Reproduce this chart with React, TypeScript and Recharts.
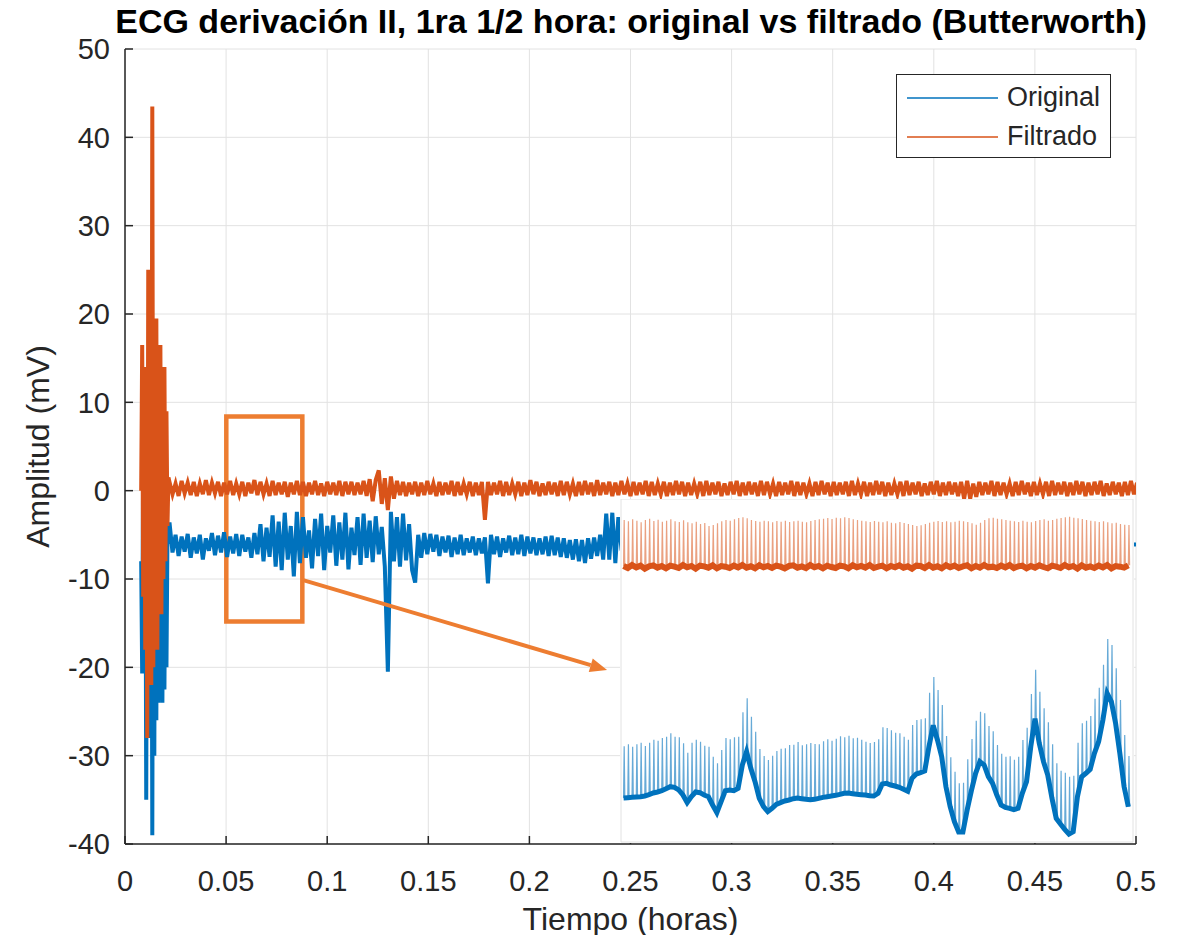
import {
  LineChart, Line, XAxis, YAxis, CartesianGrid, Legend, Label,
  ReferenceArea, ReferenceLine,
} from 'recharts'

const FONT = '"Liberation Sans", Arial, Helvetica, sans-serif'
const INK = '#262626'
const BLUE = '#0072BD'
const ORANGE = '#D95319'
const NOTE = '#ED7D31'
const GRID = '#e2e2e2'

// main axes (hours / mV)
const xTicks = [0, 0.05, 0.1, 0.15, 0.2, 0.25, 0.3, 0.35, 0.4, 0.45, 0.5]
const yTicks = [-40, -30, -20, -10, 0, 10, 20, 30, 40, 50]
const seriesOrder = ['Original', 'Filtrado']

// electrode settling burst, one sample every 0.0005 h from 0.008 h
const burstStart = 0.008
const burstStep = 0.0005
const origBurst = [-8, -20.7, 5, -15, 8, -35, 10, -25, 12, -28, 15, -39, 10, -30, 8, -26, 6, -24, 4, -23, 2, -24, 0, -22.5, -3, -20, -5, -6]
const filtBurst = [0, 16.5, -12, 14, -18, 12, -28, 25, -16, 20, -22, 43.5, -20, 18, -15, 19.5, -18, 14, -12, 16.5, -14, 12, -10, 14, -8, 9, -4, 1.5]

// rest of the record, one sample every 0.0015 h from 0.022 h
const bandStart = 0.022
const bandStep = 0.0015
const origBand = [
  -3.6, -7.0, -5.0, -7.4, -5.2, -6.9, -4.9, -7.6, -5.3, -7.1, -5.0, -7.8, -5.4, -6.8, -4.8, -7.3, -5.1, -7.0, -4.7, -7.5,
  -5.2, -7.1, -4.9, -7.4, -5.0, -6.9, -5.3, -7.6, -4.8, -7.2, -3.8, -8.0, -4.2, -7.5, -2.8, -8.6, -3.5, -9.0, -2.5, -7.8,
  -4.0, -9.7, -2.4, -8.2, -3.0, -7.6, -4.5, -8.8, -3.2, -7.4, -2.6, -9.0, -4.0, -7.0, -2.8, -8.5, -3.6, -7.8, -2.5, -8.9,
  -4.2, -7.3, -3.0, -8.4, -2.6, -7.6, -3.4, -8.1, -2.9, -7.2, -4.1, -8.6, -20.5, -2.4, -8.0, -3.0, -8.6, -2.6, -7.9, -3.8,
  -9.0, -10.4, -5.0, -7.6, -4.8, -7.2, -4.9, -6.9, -5.0, -7.4, -5.2, -7.0, -5.1, -7.5, -5.3, -7.2, -5.0, -7.3, -5.4, -7.0,
  -5.2, -7.3, -5.4, -7.1, -5.3, -10.5, -5.0, -7.2, -5.2, -7.5, -5.4, -7.0, -5.1, -7.3, -5.3, -7.2, -5.0, -7.4, -5.2, -7.1,
  -5.3, -7.3, -5.4, -7.2, -5.2, -7.4, -5.1, -7.3, -5.3, -7.5, -5.4, -7.6, -5.6, -7.8, -5.5, -8.0, -5.6, -8.2, -5.4, -7.7,
  -5.3, -7.4, -5.0, -7.8, -2.6, -7.8, -2.5, -8.2, -3.0, -6.5,
]
const filtBand = [
  1.0, -0.4, 0.8, -0.6, 1.1, -0.3, 0.9, -0.5, 1.0, -0.6, 0.8, -0.4, 1.2, -0.5, 0.9, -0.3, 1.0, -0.6, 0.9, -0.4,
  1.1, -0.5, 0.8, -0.4, 1.0, -0.6, 0.9, -0.3, 1.2, -0.5, 1.0, -0.4, 0.8, -0.6, 1.1, -0.5, 0.9, -0.4, 1.0, -0.7,
  0.9, -0.4, 1.1, -0.5, 1.0, -0.6, 0.9, -0.4, 1.1, -0.5, 0.8, -0.6, 1.0, -0.4, 0.9, -0.5, 1.1, -0.6, 1.0, -0.4,
  1.0, -0.5, 0.9, -0.4, 1.1, -0.6, 1.3, -1.2, 1.2, 2.3, -1.5, 1.4, -2.2, 1.6, -0.9, 1.1, -0.5, 1.0, -0.6, 0.9,
  -0.4, 1.0, -0.6, 0.9, -0.5, 1.1, -0.4, 0.8, -0.6, 1.0, -0.5, 0.9, -0.4, 1.1, -0.6, 1.0, -0.5, 0.8, -0.4, 1.0,
  -0.6, 0.9, -0.5, 1.0, -3.3, 1.0, -0.5, 0.9, -0.4, 1.1, -0.6, 1.0, -0.5, 0.8, -0.4, 1.0, -0.6, 0.9, -0.5, 1.2,
  -0.4, 1.0, -0.6, 0.8, -0.5, 1.0, -0.4, 0.9, -0.6, 1.1, -0.5, 1.0, -0.4, 0.8, -0.6, 1.0, -0.5, 1.1, -0.4, 0.9,
  -0.6, 1.2, -0.5, 0.9, -0.4, 1.0, -0.6, 0.9, -0.5, 1.1, -0.4, 0.8, -0.6, 1.0, -0.5, 0.9, -0.4, 1.1, -0.6, 1.0,
  -0.5, 0.8, -0.4, 1.0, -0.6, 0.9, -0.5, 1.1, -0.4, 1.0, -0.6, 0.9, -0.5, 0.8, -0.4, 1.0, -0.6, 1.1, -0.5, 0.9,
  -0.4, 1.0, -0.6, 0.8, -0.5, 1.0, -0.4, 1.1, -0.6, 0.9, -0.5, 1.0, -0.4, 0.9, -0.6, 1.1, -0.5, 1.0, -0.4, 0.8,
  -0.6, 1.0, -0.5, 0.9, -0.4, 1.1, -0.6, 1.0, -0.5, 0.9, -0.4, 0.8, -0.6, 1.0, -0.5, 1.1, -0.4, 0.9, -0.6, 1.0,
  -0.5, 0.9, -0.4, 1.0, -0.6, 1.1, -0.5, 0.8, -0.4, 1.0, -0.6, 0.9, -0.5, 1.1, -0.4, 1.0, -0.6, 0.9, -0.5, 0.8,
  -0.4, 1.0, -0.6, 1.1, -0.5, 0.9, -0.4, 1.0, -0.6, 0.8, -0.5, 1.0, -0.4, 1.1, -0.6, 0.9, -0.5, 1.0, -0.4, 0.9,
  -0.6, 1.0, -0.9, 1.1, -0.9, 0.8, -0.7, 1.0, -0.5, 0.9, -0.4, 1.1, -0.6, 1.0, -0.5, 0.9, -0.4, 0.8, -0.6, 1.0,
  -0.5, 1.1, -0.4, 0.9, -0.6, 1.0, -0.5, 0.8, -0.4, 1.0, -0.6, 1.1, -0.5, 0.9, -0.4, 1.0, -0.6, 0.9, -0.5, 1.1,
  -0.4, 1.0, -0.6, 0.9, -0.5, 1.0, -0.4, 1.1, -0.6, 0.8, -0.5, 1.0, -0.4, 0.9, -0.6, 1.0, -0.5, 1.1, -0.4, 0.9,
]

// original trace under the zoom panel, every 0.025 h from 0.25 h
const tailStart = 0.25
const tailStep = 0.025
const origTail = [-6.2, -5.6, -6.4, -5.9, -6.3, -5.8, -6.1, -6.5, -5.7, -6.0, -6.1]

// annotation: zoom window and arrow (hours / mV)
const boxX = [0.0501, 0.0877]
const boxY = [-14.8, 8.4]
const arrowFrom = { x: 0.0877, y: -10.1 }
const arrowTo = { x: 0.2384, y: -20.3 }

// zoom panel: one value per heartbeat
const zoomTicksX = [0, 20, 40, 60, 80, 100]
const zoomTicksY = [-8, -6, -4, -2, 0]
const beatStart = -1.5
const beatStep = 1
const origBase = [
  -6.94, -6.93, -6.92, -6.91, -6.90, -6.88, -6.84, -6.79, -6.76, -6.72,
  -6.66, -6.60, -6.62, -6.70, -6.85, -7.08, -6.90, -6.76, -6.78, -6.85,
  -6.90, -7.15, -7.38, -7.05, -6.72, -6.70, -6.72, -6.65, -5.95, -5.55,
  -6.05, -6.45, -6.95, -7.20, -7.35, -7.25, -7.13, -7.08, -7.03, -7.00,
  -6.96, -6.94, -6.96, -6.98, -6.99, -6.98, -6.95, -6.92, -6.90, -6.88,
  -6.86, -6.83, -6.80, -6.79, -6.81, -6.83, -6.84, -6.85, -6.87, -6.88,
  -6.80, -6.52, -6.50, -6.55, -6.58, -6.62, -6.68, -6.74, -6.35, -6.22,
  -6.18, -6.13, -5.40, -4.76, -5.20, -5.70, -6.60, -7.20, -7.65, -7.96,
  -7.96, -7.30, -6.72, -6.20, -5.85, -5.95, -6.30, -6.50, -6.85, -7.15,
  -7.22, -7.25, -7.29, -7.25, -6.80, -6.45, -5.40, -4.56, -5.30, -5.85,
  -6.25, -6.95, -7.55, -7.72, -7.88, -8.02, -7.95, -6.90, -6.30, -6.20,
  -6.08, -5.60, -5.25, -4.60, -3.80, -4.05, -4.70, -5.60, -6.60, -7.20,
]
const origPeak = [
  -5.39, -5.33, -5.40, -5.33, -5.28, -5.38, -5.28, -5.19, -5.22, -5.14,
  -5.10, -5.00, -5.10, -5.12, -5.30, -5.58, -5.28, -5.19, -5.25, -5.37,
  -5.40, -5.70, -5.90, -5.50, -5.14, -5.18, -5.12, -5.10, -4.37, -3.95,
  -4.50, -4.95, -5.47, -5.68, -5.80, -5.67, -5.53, -5.46, -5.45, -5.35,
  -5.34, -5.26, -5.36, -5.33, -5.29, -5.32, -5.33, -5.24, -5.18, -5.22,
  -5.16, -5.09, -5.12, -5.07, -5.15, -5.13, -5.19, -5.25, -5.29, -5.26,
  -5.18, -4.82, -4.84, -4.91, -4.98, -5.00, -5.10, -5.19, -4.75, -4.60,
  -4.58, -4.55, -3.78, -3.31, -3.70, -4.15, -5.08, -5.72, -6.15, -6.50,
  -6.48, -5.78, -5.17, -4.62, -4.35, -4.40, -4.78, -4.94, -5.35, -5.61,
  -5.70, -5.69, -5.79, -5.70, -5.20, -4.83, -3.82, -3.09, -3.75, -4.25,
  -4.67, -5.33, -5.90, -6.12, -6.18, -6.30, -6.27, -5.28, -4.70, -4.62,
  -4.48, -3.96, -3.63, -2.94, -2.17, -2.35, -3.05, -4.00, -5.05, -5.68,
]
const filtBase = [
  0.02, -0.04, 0.05, -0.02, 0.03, -0.06, 0.01, 0.04, -0.03, 0.02,
  -0.05, 0.03, 0.00, -0.04, 0.05, -0.02, 0.02, -0.06, 0.03, 0.01,
  -0.03, 0.04, -0.05, 0.02, 0.00, -0.04, 0.03, -0.02, 0.05, -0.03,
  0.01, -0.05, 0.04, -0.02, 0.02, -0.04, 0.03, 0.00, -0.05, 0.02,
  0.04, -0.03, 0.01, -0.04, 0.05, -0.02, 0.02, -0.05, 0.03, -0.01,
  -0.04, 0.03, 0.01, -0.05, 0.04, -0.02, 0.02, -0.03, 0.05, -0.04,
  0.00, 0.03, -0.05, 0.02, -0.02, 0.04, -0.03, 0.01, -0.06, 0.03,
  0.02, -0.04, 0.05, -0.03, 0.01, -0.05, 0.04, -0.02, 0.03, -0.04,
  0.01, 0.04, -0.05, 0.02, -0.03, 0.05, -0.02, 0.00, -0.04, 0.03,
  -0.02, 0.05, -0.04, 0.01, 0.03, -0.05, 0.02, -0.03, 0.04, -0.01,
  -0.05, 0.03, 0.00, -0.04, 0.05, -0.02, 0.02, -0.06, 0.04, -0.03,
  0.01, -0.04, 0.03, -0.02, 0.05, -0.05, 0.02, 0.00, -0.03, 0.04,
]
const filtPeak = [
  1.40, 1.36, 1.42, 1.38, 1.33, 1.40, 1.44, 1.37, 1.41, 1.35,
  1.38, 1.42, 1.36, 1.34, 1.39, 1.33, 1.30, 1.35, 1.28, 1.31,
  1.22, 1.25, 1.30, 1.36, 1.40, 1.38, 1.42, 1.46, 1.48, 1.45,
  1.40, 1.37, 1.35, 1.38, 1.36, 1.33, 1.37, 1.35, 1.38, 1.34,
  1.36, 1.38, 1.35, 1.33, 1.37, 1.40, 1.42, 1.44, 1.46, 1.43,
  1.47, 1.45, 1.48, 1.46, 1.42, 1.40, 1.38, 1.36, 1.34, 1.37,
  1.35, 1.33, 1.36, 1.32, 1.30, 1.34, 1.31, 1.28, 1.25, 1.22,
  1.24, 1.28, 1.32, 1.35, 1.37, 1.34, 1.36, 1.33, 1.35, 1.38,
  1.36, 1.34, 1.30, 1.26, 1.32, 1.40, 1.45, 1.47, 1.44, 1.42,
  1.40, 1.38, 1.36, 1.34, 1.38, 1.35, 1.33, 1.37, 1.40, 1.42,
  1.38, 1.40, 1.44, 1.46, 1.48, 1.50, 1.47, 1.45, 1.43, 1.40,
  1.38, 1.36, 1.34, 1.36, 1.33, 1.30, 1.32, 1.28, 1.26, 1.25,
]

const sampled = (t0: number, dt: number, vals: number[]) =>
  vals.map((v, i) => ({ t: +(t0 + i * dt).toFixed(5), v }))

const origData = [
  ...sampled(burstStart, burstStep, origBurst),
  ...sampled(bandStart, bandStep, origBand),
  ...sampled(tailStart, tailStep, origTail),
]
const filtData = [
  ...sampled(burstStart, burstStep, filtBurst),
  ...sampled(bandStart, bandStep, filtBand),
]

// each beat: baseline -> R peak -> baseline
const spikes = (base: number[], peak: number[]) =>
  base.flatMap((b, i) => {
    const t = beatStart + i * beatStep
    return [{ t, v: b }, { t: t + 0.15, v: peak[i] }, { t: t + 0.3, v: b }]
  })
const origSpikes = spikes(origBase, origPeak)
const filtSpikes = spikes(filtBase, filtPeak)
const origBaseline = sampled(beatStart, beatStep, origBase)
const filtBaseline = sampled(beatStart, beatStep, filtBase)

const tickStyle = { fill: INK, fontSize: 29, fontFamily: FONT }

const Arrow = (p: any) => {
  const { x1, y1, x2, y2 } = p
  const a = Math.atan2(y2 - y1, x2 - x1)
  const len = 17
  const half = 7
  const bx = x2 - len * Math.cos(a)
  const by = y2 - len * Math.sin(a)
  const px = -Math.sin(a) * half
  const py = Math.cos(a) * half
  return (
    <g>
      <line x1={x1} y1={y1} x2={bx} y2={by} stroke={NOTE} strokeWidth={4} />
      <polygon points={`${x2},${y2} ${bx + px},${by + py} ${bx - px},${by - py}`} fill={NOTE} />
    </g>
  )
}

const LegendBox = ({ payload }: any) => {
  const items = [...(payload || [])].sort(
    (a: any, b: any) => seriesOrder.indexOf(a.value) - seriesOrder.indexOf(b.value))
  return (
    <div style={{
      width: 215, height: 84, boxSizing: 'border-box', border: `1.5px solid ${INK}`,
      background: '#fff', paddingTop: 3, fontFamily: FONT, fontSize: 27, color: INK,
    }}>
      {items.map((p: any) => (
        <div key={p.value} style={{ display: 'flex', alignItems: 'center', height: 39 }}>
          <svg width={110} height={10} style={{ flex: 'none' }}>
            <line x1={10} y1={5} x2={101} y2={5} stroke={p.color} strokeWidth={1.5} />
          </svg>
          <span style={{ lineHeight: 1 }}>{p.value}</span>
        </div>
      ))}
    </div>
  )
}

export default function App() {
  return (
    <div style={{ position: 'relative', margin: -8, width: 1181, height: 943, overflow: 'hidden', background: '#fff', fontFamily: FONT }}>
      <div style={{
        position: 'absolute', left: 81, top: 3, width: 1100, textAlign: 'center',
        fontSize: 34, fontWeight: 700, color: '#000', lineHeight: '36px', whiteSpace: 'nowrap',
      }}>
        ECG derivación II, 1ra 1/2 hora: original vs filtrado (Butterworth)
      </div>

      <div style={{ position: 'absolute', left: 0, top: 0 }}>
        <LineChart width={1181} height={943} margin={{ top: 49, right: 45, bottom: 0, left: 0 }}>
          <CartesianGrid stroke={GRID} />
          <XAxis dataKey="t" type="number" domain={[0, 0.5]} ticks={xTicks} height={99}
            tick={tickStyle} tickSize={-8} tickMargin={34} stroke={INK} strokeWidth={1.5}
            allowDataOverflow>
            <Label value="Tiempo (horas)" position="insideBottom" offset={13}
              style={{ fontSize: 32, fill: INK, fontFamily: FONT }} />
          </XAxis>
          <XAxis xAxisId="top" orientation="top" type="number" domain={[0, 0.5]} ticks={xTicks}
            height={0} tick={false} tickSize={-8} stroke={INK} strokeWidth={1.5} />
          <YAxis type="number" domain={[-40, 50]} ticks={yTicks} width={125}
            tick={tickStyle} tickSize={-8} tickMargin={23} stroke={INK} strokeWidth={1.5}
            allowDataOverflow>
            <Label value="Amplitud (mV)" angle={-90} position="insideLeft" offset={38}
              style={{ textAnchor: 'middle', fontSize: 32, fill: INK, fontFamily: FONT }} />
          </YAxis>
          <YAxis yAxisId="right" orientation="right" type="number" domain={[-40, 50]} ticks={yTicks}
            width={0} tick={false} tickSize={-8} stroke={INK} strokeWidth={1.5} />
          <Legend layout="horizontal" verticalAlign="middle" align="center" content={LegendBox}
            wrapperStyle={{ position: 'absolute', left: 896, top: 74, width: 215, height: 84 }} />
          <Line data={origData} dataKey="v" name="Original" stroke={BLUE} strokeWidth={4}
            strokeLinejoin="miter" dot={false} activeDot={false} isAnimationActive={false} />
          <Line data={filtData} dataKey="v" name="Filtrado" stroke={ORANGE} strokeWidth={4}
            strokeLinejoin="miter" dot={false} activeDot={false} isAnimationActive={false} />
          <ReferenceArea x1={boxX[0]} x2={boxX[1]} y1={boxY[0]} y2={boxY[1]}
            fill="none" fillOpacity={0} stroke={NOTE} strokeWidth={4.5} />
          <ReferenceLine segment={[arrowFrom, arrowTo]} shape={Arrow} />
        </LineChart>
      </div>

      <div style={{ position: 'absolute', left: 620, top: 499, width: 514, height: 344, background: '#fff' }}>
        <LineChart width={514} height={344} margin={{ top: 0, right: 1, bottom: 1, left: 1 }}>
          <CartesianGrid stroke={GRID} />
          <XAxis dataKey="t" type="number" domain={[-2.1, 118.6]} ticks={zoomTicksX} height={0}
            tick={false} tickSize={-6} stroke="#444" strokeWidth={1.5} allowDataOverflow />
          <YAxis type="number" domain={[-8.26, 2.03]} ticks={zoomTicksY} width={0}
            tick={false} tickSize={-6} stroke="#444" strokeWidth={1.5} allowDataOverflow />
          <YAxis yAxisId="right" orientation="right" type="number" domain={[-8.26, 2.03]} ticks={zoomTicksY}
            width={0} tick={false} tickSize={-6} stroke="#444" strokeWidth={1.5} />
          <Line data={filtSpikes} dataKey="v" stroke={ORANGE} strokeOpacity={0.55} strokeWidth={1.2}
            dot={false} activeDot={false} isAnimationActive={false} />
          <Line data={filtBaseline} dataKey="v" stroke={ORANGE} strokeWidth={6}
            dot={false} activeDot={false} isAnimationActive={false} />
          <Line data={origSpikes} dataKey="v" stroke={BLUE} strokeOpacity={0.6} strokeWidth={1.2}
            dot={false} activeDot={false} isAnimationActive={false} />
          <Line data={origBaseline} dataKey="v" stroke={BLUE} strokeWidth={5}
            dot={false} activeDot={false} isAnimationActive={false} />
        </LineChart>
      </div>
    </div>
  )
}
